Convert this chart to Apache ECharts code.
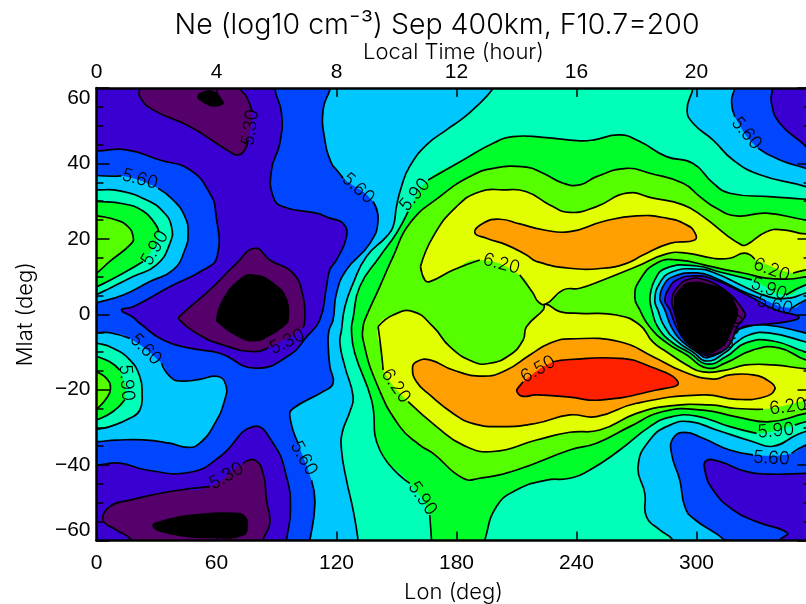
<!DOCTYPE html>
<html><head><meta charset="utf-8">
<script src="https://cdn.jsdelivr.net/npm/echarts@6/dist/echarts.min.js"></script>
<style>html,body{margin:0;padding:0;background:#fff}#c{width:806px;height:604px;overflow:hidden}</style>
</head><body><div id="c"></div>
<script>
// Contour levels (log10 Ne) and the colour of the band just above each boundary
const levels=[5.15,5.30,5.45,5.60,5.75,5.90,6.05,6.20,6.35,6.50];
const bandColors=['#000000','#55006b','#3a00d2','#0046ff','#00c8ff','#00ffb9','#00ff2a','#55ff00','#e1ff00','#ffa000','#ff2000'];
const lonTicks=[0,60,120,180,240,300];
const lonMax=357, ltMax=23.8;

// Contours as [lon, lat]; null = gap where a label interrupts the line
const plotArea=[[-10,-65],[370,-65],[370,65],[-10,65]];
const west575=[[204,65],[198.5,60],[190,55.1],[183.3,52],[175,48.9],[165,44.9],[156.6,39.2],[152.5,33.9],[150,28.6],[148.3,23.2],[145,20.6],[135,15.3],[128.3,8.2],[124.2,2],[122.5,-4.2],[121.7,-7.7],[124.2,-13.9],[128.3,-21.85],[126.7,-25.8],[123,-31.1],[122.5,-36],[125,-44],[128.3,-51.9],[130.8,-59.9],[131.5,-65],[-10,-65],[-10,65]];
const west560=[[119.5,64],[116.7,59.5],[113.3,54.2],[114.2,46.2],[117.5,40],[120,38.3],[123.3,36.1],null,[138.3,29.9],[140.8,25],[136.7,18.8],[125,11.8],[120,5.6],[118.3,-1.5],[116.3,-4.2],[115.8,-7.7],[116.7,-13.9],[118.3,-18.3],[113.3,-20.5],[98.3,-25],[96.7,-27.2],[100.8,-34.2],null,[107.5,-44],[109.2,-50.1],[106.7,-59.9],[104.5,-65],[-10,-65],[-10,65]];
const north560=[[-5,37.5],[0.3,36.8],[12.5,36.7],null,[30.8,33.4],[38.3,30.3],[44.2,25.9],[45.8,21.5],[44.2,17.1],[38.3,11.75],[26.7,8.7],[13.3,5.1],[0.3,3.1],[-5,2.5]];
const north575=[[-5,33],[0.3,33],[11.65,32.7],[25,30.3],[33.3,27.2],[37.5,23.2],[36.7,18.8],[30,13.1],[18.3,10],[6.65,6.9],[0.3,5.3],[-5,4.5]];
const north590=[[-5,30],[0.3,29.9],[13.3,29.3],[23.3,27.4],[29.2,24.1],[31.2,21.9],null,[23.3,14],[13.3,10.9],[0.3,7.3],[-5,6]];
const north605=[[-5,26.5],[0.3,26.1],[10,25],[15.8,23.2],[18.3,20.6],[17.5,18.8],[6.65,14],[0.3,11],[-5,9]];
const south560=[[-5,-4.9],[0.3,-4.9],[6.65,-4.9],[16.65,-6.4],null,[32.5,-13],[36.65,-16.5],[41.65,-17.7],[51.65,-17.25],[60.8,-16.5],[64.65,-18.75],[64.15,-22.7],[59.15,-29],[51.65,-34.2],[45.8,-35.3],[36.65,-34.2],[23.3,-33.3],[10,-33.4],[0.3,-33.8],[-5,-34]];
const south575=[[-5,-7.5],[0.3,-7.7],[8.3,-9],[16.65,-12.1],[21.65,-16.5],[22.8,-21],[21.65,-25.4],[16.65,-27.6],[6.65,-29.8],[0.3,-30.5],[-5,-31]];
const south590=[[-5,-10],[0.3,-11.2],[6.65,-12.6],[11.65,-14.8],null,[14.15,-22.7],[8.3,-25.8],[0.3,-28],[-5,-29]];
const south605=[[-5,-13],[0.3,-15.2],[5,-17],[7,-19.6],[5,-22.3],[0.3,-25],[-5,-27]];
const westHigh545=[[90,65],[89.15,60],[92.5,53.3],[91.65,45.35],[87.5,38.3],[88.3,31.2],[93.3,28.5],[110,26.8],[116.65,25.5],[123.3,24.1],[125,20.6],[120,14.4],[116.65,11.75],[115,7.3],[111.65,-1.5],[105,-6],[96.65,-10.8],[79.15,-14.3],[61.65,-10.35],[46.65,-9],[33.3,-6.85],[21.65,-2.4],[18.3,-0.8],[12.5,1.15],[18.3,2],[36.65,7.3],[53.3,11.75],[60.3,15.3],[59.65,26.8],[56.65,32.1],[46.65,38.3],[31.65,40.9],[15,43.6],[0.3,43.3],[-5,43.3],[-5,65]];
const top530=[[21.5,65],[21.65,60],[21.65,57.7],[28.3,54.2],[46.65,49.8],[66.65,43.1],[70.8,42.25],[74.15,43.6],[75.8,46.2],null,[77.8,53.75],[75,57.7],[71.65,60],[70,65]];
const top515=[[50.8,57.7],[54.15,59],[59.15,58.8],[62.5,56.85],[63,55.8],[58.3,55.25],[54.15,56.1]];
const mid530=[[40.8,-1.07],[45,1.15],[56.65,6.45],[70,13.5],[79.15,17.5],[86.65,14.4],[98.3,10.9],[103.3,4.7],[104.15,-1.5],[103.3,-3.6],null,[86,-8.8],[78.3,-9.9],[63.3,-8.15],[50,-5.05]];
const mid515=[[60,-1.5],[63.3,3.8],[71.65,9.1],[78.3,10.4],[88.3,8.2],[95,3.8],[95.8,-1.5],[95,-2.4],[86.65,-5.5],[78.3,-7],[68.3,-5.05],[60.8,-2]];
const bottom545=[[-5,-40],[0.3,-40],[11.65,-39.5],[25,-41.3],[46.65,-41.9],[61.65,-37.8],[78.3,-29.8],[88.3,-34.2],[95,-43.1],[97,-51.9],[95,-59.9],[94,-65],[-5,-65]];
const bottom530=[[22,-65],[17.5,-59.9],[10,-57.2],[3.3,-54.6],[6.65,-51],[16.65,-49.3],[36.65,-47],[56.65,-45.7],null,[73.3,-39.5],[79.15,-38.65],[83.3,-42.2],[85,-49.3],[86.65,-55.45],[83.3,-59.9],[82.5,-65]];
const bottom515=[[28.3,-56.15],[35,-54.6],[50,-53.2],[68.3,-52.8],[74.15,-53.7],[75.3,-56.3],[73.3,-58.5],[58.3,-59.2],[36.65,-58.1]];
const ne575=[[299.5,65],[298.3,60],[295.3,54.2],[298.3,50.65],[308.3,46.2],[318.3,40.9],[331.65,37],[354.65,33.85],[365,31.5],[365,65]];
const ne560=[[321,65],[319.15,60],[317.5,56.4],[319.15,52.4],null,[330.8,44],[341.65,40.9],[354.65,38.7],[365,37],[365,65]];
const ne545=[[338.5,65],[338,60],[337.5,56],[341.65,50.65],[354.65,44.5],[365,38],[365,65]];
const se575=[[291.5,-65],[288.3,-59.9],[281.65,-57.2],[275,-53.7],[274.15,-47.5],[270.8,-40.4],[276.65,-33.35],[286.65,-29.4],[296.65,-28.5],[310,-30.7],[328.3,-33.8],[338.3,-35],[350,-32],[354.65,-31.1],[365,-30],[365,-65]];
const se560=[[322,-65],[314.15,-59.9],[298.3,-54.1],[294.15,-51],[291.65,-44],[287.5,-36.9],[288.3,-32.9],[294.15,-31.3],[303.3,-32.9],[316.65,-36],[328.3,-37.3],null,[347.5,-36.9],[354.65,-34.7],[365,-33],[365,-65]];
const se545=[[337,-65],[341.65,-59.9],[345.3,-58],[330,-55],[318.3,-51.9],[308.3,-46.6],[304.15,-41.3],[305,-38.8],[311.65,-39.1],[325,-41.75],[336.65,-42.4],[354.65,-42.2],[365,-42],[365,-65]];
const centre590=[[168,-65],[167.5,-59.9],[166.65,-53.25],null,[156.65,-44.85],[141.65,-36],[137.5,-22.7],[129.15,-10.35],[127.5,-4.2],[128.3,-1],[131.65,7.35],[141.65,15.3],[150,21.5],[155.8,27.2],null,[165.8,35.6],[183.3,40.9],[198.3,45.35],[208.3,47.1],[223.3,46.9],[241.65,46],[248.3,46.2],[261.65,47.55],[271.65,45.8],[285,41.8],[298.3,40],[308.3,34.75],[316.65,32.1],[336.65,31.2],[354.65,30.5],[365,30],[368,0],[365,-27.5],[354.65,-28.5],[349.15,-29.4],null,[330,-31.6],[316.65,-29.8],[300,-27],[286.65,-27.3],[276.65,-29.8],[261.65,-36],[246.65,-41.3],[236.65,-43.5],[225,-44],[210,-46.6],[200,-51],[194.15,-59.9],[192,-65]];
const centre605=[[134.15,-1.5],[141.65,7.35],[148.3,15.3],[156.65,24.15],[171.65,31.2],[186.65,36.5],[198.3,38.7],[215,39],[223.3,37.4],[233.3,34.75],[241.65,34.3],[250,36.5],[265,38.7],[276.65,37.4],[293.3,34.75],[301.65,31.2],[310,28.1],[320,26.1],[335,26.8],[354.65,25],[365,24.5],[368,0],[365,-25.5],[354.65,-26.3],[336.65,-28.5],[320,-27.2],[303.3,-25.4],[283.3,-25.8],[266.65,-29.8],[250,-34.2],[236.65,-36],[210,-41.3],[191.65,-43.5],[183.3,-43.5],[168.3,-36.9],[161.65,-34.7],[151.65,-29.8],[140,-18.3],[133.3,-6.85],[133.3,-3.3]];
const north620=[[162,12.65],[164.15,9.1],[166.65,8.65],[178.3,11.75],[191.65,14.4],null,[211.65,10.4],[218.3,5.55],[220.8,3.35],[224.65,2.7],[233.3,6.45],[241.65,6.9],[253.3,9.1],[270,12.65],[285,16],[295,16.2],[308.3,14.85],[316.65,14.85],[324.15,16.2],[329.15,14.6],null,[348.3,10.9],[354.65,11.75],[365,13],[365,22],[354.65,21.3],[343.3,22.4],[335,21.9],[325,18.4],[322.5,18.4],[315,21],[303.3,25.9],[293.3,29],[278.3,30.8],[265,32.1],[250,28.55],[236.65,27],[226.65,29],[215,32.5],[203.3,33],[191.65,32.5],[180,28.55],[168.3,20.6]];
const south620=[[140.8,-3.3],[148.3,-0.2],[158.3,0.7],[168.3,-3.3],[176.65,-8.6],[188.3,-12.6],[196.65,-13],[206.65,-10.8],[213.3,-6.85],[215,-3.3],[223.3,1.14],[224.65,2.7],[231.65,0.7],[241.65,0.25],[260,-0.2],[271.65,-2.85],[278.15,-7.35],[285.15,-10],[295.15,-13.45],[303.15,-15.3],[314.65,-14.8],[324.65,-13.45],[338.15,-13.45],[354.65,-14.5],[365,-15],[365,-21.5],[354.65,-22.75],[353.3,-23],null,[333.3,-25.2],[320,-25],[306.65,-24.05],[286.65,-24.3],[270,-26.3],[251.65,-30.7],[236.65,-31.3],[220,-33.35],[198.3,-36.4],[183.3,-34.7],[170,-29.8],[155.8,-23.2],null,[143.3,-14.8],[142.5,-10.35]];
const north635=[[189.15,21.65],[193.3,24.15],[201.65,25.2],[211.65,23.95],[223.3,22.4],[236.65,21.9],[253.3,24.6],[270,26.1],[285,25.5],[295,23.7],[299.15,21.65],[299.15,19.7],[286.65,18.8],[273.3,15.7],[265,13.5],[253.3,12.2],[236.65,12.2],[220,14],[215,15.7],[205,18.4],[195,20.15]];
const south635=[[158,-14.3],[160,-12.6],[166.65,-12.1],[178.3,-14.8],[193.3,-16.4],[205,-14.8],[216.65,-10.8],[226.65,-7.7],[236.65,-6.55],[261.65,-7.3],[278.3,-11.25],[293.3,-15.2],[308.3,-17.2],[316.65,-16.1],[328.3,-16.1],[336.65,-17.9],[339.15,-19.9],[333.3,-22],[320,-22.55],[303.3,-21.4],[270,-23.6],[250,-27.15],[236.65,-26.7],[220,-28.9],[203.3,-29.8],[188.3,-29],[178.3,-26.3],[166.65,-21.4],[160,-17.9]];
const red650=[[210,-20.1],[213.3,-17.9],null,[228.3,-12.6],[236.65,-12],[261.65,-11.7],[275,-13.45],[290.8,-18.05],[280,-20.1],[251.65,-22.75],[236.65,-22],[220,-21.4],[212.5,-21.7]];
const hole605=[[269.15,4.6],[271.65,9.1],[280.15,13.6],[290.15,14.4],[308.15,12.55],[314.65,11.75],[323.15,10.95],[334.65,9.6],[346.65,9.35],[354.65,9.9],[365,10.2],[365,-13],[354.65,-12.1],[341.15,-8.9],[328.15,-9.5],[314.65,-12.9],[305.15,-14.25],[295.15,-10.8],[285.15,-7.6],[276.65,-3.4],[271.65,1.15]];
const hole590=[[276.65,3.8],[279.15,9.1],[285.15,12.3],[300.15,12.8],[311.65,11.2],[327.65,9.1],null,[344.65,5.1],[354.65,7.8],[365,9],[365,-11],[354.65,-10],[338.15,-7.1],[324.65,-7.6],[314.65,-11.3],[305.15,-13.2],[296.65,-10.25],[288.15,-7.6],[280.65,-3.4],[277.65,1.15]];
const hole575=[[279.15,3.8],[281.65,8.3],[287.65,11.2],[300.15,12],[309.15,10.95],[324.15,7.25],[336.15,4.6],[346.65,4.3],[354.65,5.65],[365,7],[365,-9],[354.65,-7.35],[336.15,-4.95],[326.15,-5.5],[319.65,-7.6],[314.65,-10],[305.15,-12.4],[298.15,-10],[290.65,-7.35],[284.15,-3.4],[280.65,1.15]];
const hole560=[[281.65,3.8],[283.65,7.8],[289.15,10.15],[300.15,10.95],[308.15,9.9],[321.65,6.45],[331.65,4.3],null,[347.65,1.65],[354.65,3.8],[365,6],[365,-6],[354.65,-4.95],[334.65,-2.85],[323.15,-3.6],[317.15,-5.4],[309.15,-10],[305.15,-11.6],[300.15,-10],[293.15,-7.35],[287.65,-3.6],[284.15,1.15]];
const hole545=[[284.15,3.8],[286.65,7.25],[290.15,9.1],[297.65,10.15],[308.15,9.35],[325.15,5.1],[339.65,1.15],[351.15,-0.7],[344.65,-2],[329.65,-2.85],[323.15,-3.4],[318.65,-5.4],[314.65,-8.95],[311.65,-10.25],[305.15,-11.05],[295.65,-7.6],[290.15,-3.6],[286.65,1.15]];
const hole530=[[287.65,3.8],[290.65,7.25],[296.65,9.35],[304.15,9.1],[312.65,7],[319.15,4.05],[324.15,0.35],[324.15,-0.7],[320.15,-3.4],[317.15,-7.6],[312.15,-10],[305.15,-10.5],[296.65,-7.6],[291.65,-3.4],[288.65,1.15]];
const hole515=[[289.15,3.8],[291.65,6.45],[296.65,8.3],[306.65,7.75],[315.15,5.65],[319.65,1.95],[320.15,-0.45],[317.65,-3.6],[315.15,-6.8],[311.65,-8.95],[305.15,-10.2],[298.15,-8.7],[293.15,-6],[290.15,-1.5]];

// Paint order: [band index, contour]
const regions=[[5,plotArea],[4,west575],[3,west560],
 [4,north560],[5,north575],[6,north590],[7,north605],
 [4,south560],[5,south575],[6,south590],[7,south605],
 [2,westHigh545],[1,top530],[0,top515],[1,mid530],[0,mid515],
 [2,bottom545],[1,bottom530],[0,bottom515],
 [4,ne575],[3,ne560],[2,ne545],[4,se575],[3,se560],[2,se545],
 [6,centre590],[7,centre605],[8,north620],[8,south620],[9,north635],[9,south635],[10,red650],
 [6,hole605],[5,hole590],[4,hole575],[3,hole560],[2,hole545],[1,hole530],[0,hole515]];

// Contour labels: text, lon, lat, angle
const contourLabels=[['5.30',77,49.5,82],['5.60',21.65,35.8,-15],['5.90',29.15,17.5,60],['5.60',130.8,33.4,-42],['5.90',159.15,31.65,50],['6.20',202.5,13.35,-15],['5.60',325,48,-50],['6.20',337.65,11.75,-20],['5.90',336.15,6.7,-20],['5.60',339.15,2.45,-15],['5.60',24.65,-9.3,-45],['5.90',15,-18.15,-85],['5.30',95.3,-7.3,25],['5.60',103.65,-38.2,-60],['5.30',65,-42.9,30],['5.90',163,-48.8,-55],['6.20',149.65,-19,-55],['6.50',220.8,-14.6,30],['6.20',345.8,-24.5,8],['5.90',339.65,-30.9,5],['5.60',337.5,-38.2,-3],['5.30',318,-4.5,68]];

const SMOOTH=0.5;
const LINE_W=1.7;
function renderRegion(params,api){
  const [band,path]=regions[params.dataIndex];
  const pts=path.filter(p=>p).map(p=>api.coord(p));
  const children=[{type:'polygon',shape:{points:pts,smooth:SMOOTH},style:{fill:bandColors[band],stroke:null}}];
  if(path!==plotArea){
    if(!path.includes(null)){
      children.push({type:'polygon',shape:{points:pts,smooth:SMOOTH},style:{fill:null,stroke:'#000',lineWidth:LINE_W}});
    }else{
      const segs=[[]];
      path.forEach(p=>{if(p)segs[segs.length-1].push(api.coord(p));else segs.push([]);});
      segs[segs.length-1].push(segs[0][0]);
      segs.forEach(s=>children.push({type:'polyline',shape:{points:s,smooth:SMOOTH},style:{fill:null,stroke:'#000',lineWidth:LINE_W}}));
    }
  }
  return {type:'group',children};
}
function renderLabel(params,api){
  const [t,lon,lat,ang]=contourLabels[params.dataIndex];
  const c=api.coord([lon,lat]);
  return {type:'text',x:c[0],y:c[1],rotation:ang*Math.PI/180,
    style:{text:t,x:0,y:0,align:'center',verticalAlign:'middle',fill:'#000',font:'300 18px Inter,"Liberation Sans"'}};
}
const NAME={fontFamily:'Inter,"DejaVu Sans"',fontWeight:300,fontSize:22,color:'#000'};
const lineStyle={color:'#000',width:2.5};
const tickStyle={color:'#000',width:1.5};
function yAxis(pos,show){return {type:'value',position:pos,min:-60,max:60,interval:20,z:10,
  axisLine:{show:true,onZero:false,lineStyle},
  axisTick:{show:true,inside:true,length:13,lineStyle:tickStyle},
  minorTick:{show:true,splitNumber:4,length:7,lineStyle:tickStyle},
  splitLine:{show:false},
  axisLabel:{show,margin:6,fontFamily:'Liberation Sans',fontSize:21,color:'#000',
    verticalAlignMaxLabel:'top',verticalAlignMinLabel:'bottom',
    formatter:v=>String(v).replace('-','\u2212')},
  name:show?'Mlat (deg)':'',nameLocation:'middle',nameRotate:90,nameGap:60,nameTextStyle:NAME};}
const option={animation:false,
  title:{text:'Ne (log10 cm\u207B\u00B3) Sep 400km, F10.7=200',left:432,top:6,textAlign:'center',
    textStyle:{fontFamily:'Inter,"DejaVu Sans"',fontSize:28.5,fontWeight:300,color:'#000'}},
  grid:{left:96.5,top:88,width:714,height:452.5,containLabel:false,outerBoundsMode:'none'},
  xAxis:[
   {type:'value',position:'bottom',min:0,max:lonMax,interval:60,z:10,
    axisLine:{show:true,onZero:false,lineStyle},
    axisTick:{show:true,inside:true,length:9,lineStyle:tickStyle},splitLine:{show:false},
    axisLabel:{show:true,margin:12,fontFamily:'Liberation Sans',fontSize:21,color:'#000',formatter:v=>lonTicks.includes(v)?String(v):''},
    name:'Lon (deg)',nameLocation:'middle',nameGap:41,nameTextStyle:NAME},
   {type:'value',position:'top',min:0,max:ltMax,interval:4,z:10,
    axisLine:{show:true,onZero:false,lineStyle},
    axisTick:{show:true,inside:true,length:9,lineStyle:tickStyle},splitLine:{show:false},
    axisLabel:{show:true,margin:5,fontFamily:'Liberation Sans',fontSize:21,color:'#000',formatter:v=>v%4===0?String(v):''},
    name:'Local Time (hour)',nameLocation:'middle',nameGap:25,nameMoveOverlap:false,nameTextStyle:NAME}],
  yAxis:[yAxis('left',true),yAxis('right',false)],
  series:[
   {type:'custom',coordinateSystem:'cartesian2d',clip:true,z:2,silent:true,renderItem:renderRegion,data:regions.map((r,i)=>[i])},
   {type:'custom',coordinateSystem:'cartesian2d',clip:true,z:3,silent:true,renderItem:renderLabel,data:contourLabels.map((r,i)=>[i])}]
};
echarts.init(document.getElementById('c'),null,{renderer:'canvas'}).setOption(option);
</script></body></html>
